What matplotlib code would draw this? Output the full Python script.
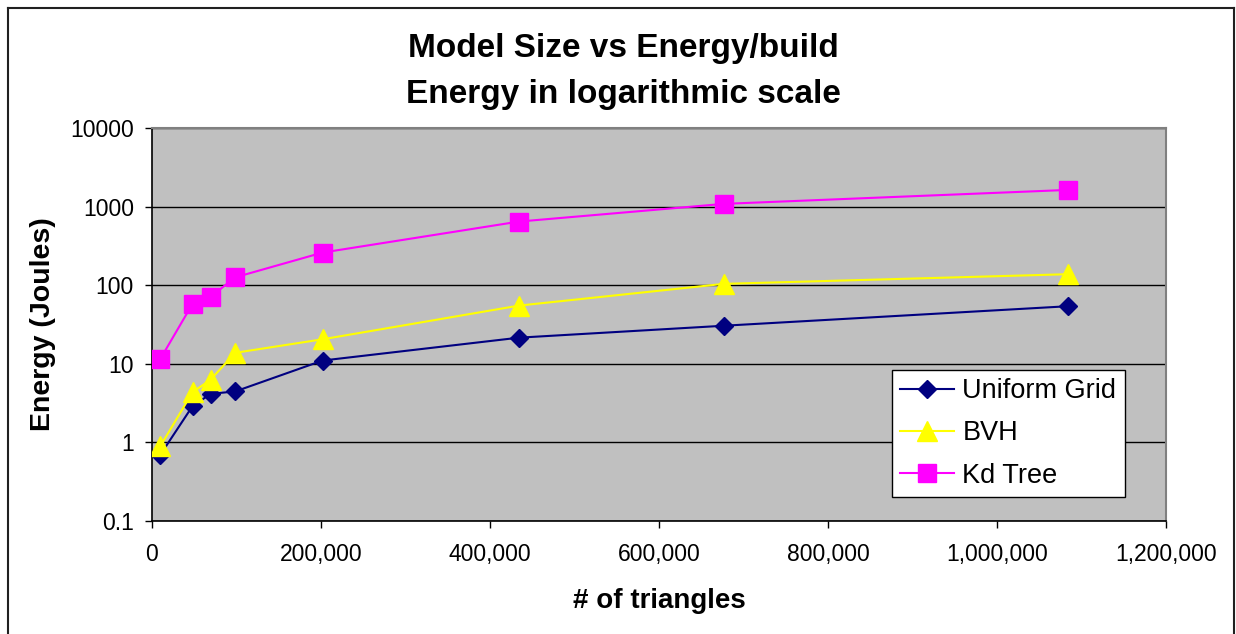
import matplotlib
matplotlib.use("Agg")
import matplotlib.pyplot as plt
from matplotlib.lines import Line2D
from matplotlib.ticker import FixedLocator, FuncFormatter, NullLocator

plt.rcParams["font.family"] = ["Liberation Sans", "DejaVu Sans"]

# model sizes (triangle counts) and build energy per structure
triangles = [10000, 48000, 69451, 98500, 201800, 434200, 676700, 1083800]
uniform_grid = [0.70, 2.9, 4.15, 4.45, 11.0, 21.5, 30.5, 54]
bvh = [0.9, 4.35, 6.3, 13.8, 20.5, 55, 104, 138]
kd_tree = [11.6, 58, 71.5, 126, 260, 645, 1083, 1630]

series_names = ["Uniform Grid", "BVH", "Kd Tree"]
y_ticks = [0.1, 1, 10, 100, 1000, 10000]
x_ticks = [0, 200000, 400000, 600000, 800000, 1000000, 1200000]

W, H = 1236, 634
fig = plt.figure(figsize=(W / 100, H / 100), dpi=100)
ax = fig.add_axes([152 / W, 1 - 521 / H, (1166 - 152) / W, (521 - 128) / H])
ax.set_facecolor("#C0C0C0")

ax.plot(triangles, uniform_grid, color="#000080", lw=1.5, marker="D",
        ms=9.5, mec="#000080", mfc="#000080", label=series_names[0], zorder=3)
ax.plot(triangles, bvh, color="#FFFF00", lw=1.5, marker="^",
        ms=14, mec="#FFFF00", mfc="#FFFF00", label=series_names[1], zorder=3)
ax.plot(triangles, kd_tree, color="#FF00FF", lw=1.5, marker="s",
        ms=12.5, mec="#FF00FF", mfc="#FF00FF", label=series_names[2], zorder=3)

ax.set_yscale("log")
ax.set_ylim(0.1, 10000)
ax.set_xlim(0, 1200000)
ax.yaxis.set_major_locator(FixedLocator(y_ticks))
ax.yaxis.set_minor_locator(NullLocator())
ax.yaxis.set_major_formatter(FuncFormatter(lambda v, p: f"{v:g}"))
ax.xaxis.set_major_locator(FixedLocator(x_ticks))
ax.xaxis.set_major_formatter(FuncFormatter(lambda v, p: f"{int(v):,}"))
ax.grid(axis="y", color="black", lw=1)
ax.set_axisbelow(True)

for side in ["top", "right"]:
    ax.spines[side].set_color("#808080")
    ax.spines[side].set_linewidth(1.5)
for side in ["left", "bottom"]:
    ax.spines[side].set_color("black")
    ax.spines[side].set_linewidth(1.2)

ax.tick_params(axis="both", direction="out", length=5, width=1,
               labelsize=16.5, colors="black")
ax.tick_params(axis="y", pad=8)
ax.tick_params(axis="x", pad=11)

ax.set_xlabel("# of triangles", fontsize=20, fontweight="bold", labelpad=16)
ax.set_ylabel("Energy (Joules)", fontsize=20.5, fontweight="bold", labelpad=10)

fig.text(623 / W, 1 - 48 / H, "Model Size vs Energy/build",
         ha="center", va="center", fontsize=24, fontweight="bold")
fig.text(623 / W, 1 - 95 / H, "Energy in logarithmic scale",
         ha="center", va="center", fontsize=24, fontweight="bold")

leg = ax.legend(loc="upper left", bbox_to_anchor=(892 / W, 1 - 370 / H),
                bbox_transform=fig.transFigure, fontsize=19.5, frameon=True,
                fancybox=False, handlelength=2.0, handletextpad=0.3,
                labelspacing=0.6, borderpad=0.3, borderaxespad=0)
leg.get_frame().set_edgecolor("black")
leg.get_frame().set_linewidth(1)
leg.get_frame().set_facecolor("white")
leg.get_frame().set_alpha(1)

# outer chart border
for xs, ys in [([8, 8], [8, H]), ([8, 1234], [8, 8]), ([1234, 1234], [8, H])]:
    fig.add_artist(Line2D([x / W for x in xs], [1 - y / H for y in ys],
                          transform=fig.transFigure, color="#202020", lw=1.5))

fig.savefig("out.png", dpi=100)
